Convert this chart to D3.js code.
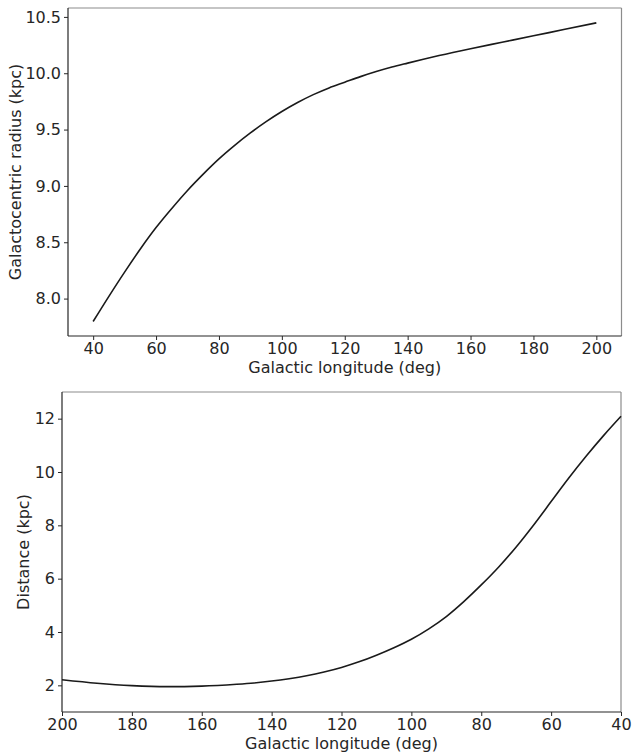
<!DOCTYPE html>
<html>
<head>
<meta charset="utf-8">
<script src="https://cdn.jsdelivr.net/npm/d3@7"></script>
<style>
body{margin:0;background:#fff;}
text{font-family:"DejaVu Sans",sans-serif;fill:#262626;}
</style>
</head>
<body>
<svg id="chart" width="633" height="754"></svg>
<script>
const longitudes = [40,45,50,55,60,65,70,75,80,85,90,95,100,105,110,115,120,125,130,135,140,145,150,160,170,180,190,200];
const radiusKpc = [7.797,8.02,8.235,8.44,8.63,8.80,8.96,9.105,9.24,9.36,9.47,9.57,9.66,9.74,9.81,9.87,9.92,9.97,10.015,10.055,10.09,10.124,10.157,10.218,10.275,10.332,10.39,10.447];
const distanceKpc = [12.09,11.365,10.59,9.765,8.89,8.015,7.19,6.44,5.765,5.14,4.58,4.12,3.73,3.41,3.13,2.88,2.67,2.50,2.36,2.25,2.16,2.09,2.04,1.97,1.95,1.99,2.08,2.21];
const topXTicks = [40,60,80,100,120,140,160,180,200];
const topYTicks = [8.0,8.5,9.0,9.5,10.0,10.5];
const botXTicks = [200,180,160,140,120,100,80,60,40];
const botYTicks = [2,4,6,8,10,12];

const svg = d3.select("#chart");
const FS = 16;

function panel(o){
  const g = svg.append("g");
  const x = d3.scaleLinear().domain(o.xd).range([o.l, o.r]);
  const y = d3.scaleLinear().domain(o.yd).range([o.b, o.t]);
  const xa = g.append("g").attr("transform",`translate(0,${o.b})`)
    .call(d3.axisBottom(x).tickValues(o.xt).tickSize(4).tickPadding(3).tickFormat(o.xf));
  const ya = g.append("g").attr("transform",`translate(${o.l},0)`)
    .call(d3.axisLeft(y).tickValues(o.yt).tickSize(4).tickPadding(3).tickFormat(o.yf));
  [xa,ya].forEach(a=>{
    a.select(".domain").remove();
    a.selectAll(".tick line").attr("stroke","#262626").attr("stroke-width",1);
    a.selectAll(".tick text").attr("font-size",FS).attr("font-family","DejaVu Sans").attr("fill","#262626");
  });
  g.append("line").attr("x1",o.l).attr("x2",o.r).attr("y1",o.t).attr("y2",o.t).attr("stroke","#8c8c8c").attr("stroke-width",1.2);
  g.append("line").attr("x1",o.r).attr("x2",o.r).attr("y1",o.t).attr("y2",o.b).attr("stroke","#8c8c8c").attr("stroke-width",1.2);
  g.append("line").attr("x1",o.l).attr("x2",o.r).attr("y1",o.b).attr("y2",o.b).attr("stroke","#262626").attr("stroke-width",1.2);
  g.append("line").attr("x1",o.l).attr("x2",o.l).attr("y1",o.t).attr("y2",o.b).attr("stroke","#262626").attr("stroke-width",1.2);
  const line = d3.line().x(d=>x(d[0])).y(d=>y(d[1])).curve(d3.curveMonotoneX);
  g.append("path").datum(d3.zip(longitudes,o.vals)).attr("d",line)
    .attr("fill","none").attr("stroke","#1a1a1a").attr("stroke-width",1.6);
  g.append("text").attr("x",(o.l+o.r)/2).attr("y",o.xly).attr("text-anchor","middle")
    .attr("font-size",FS).text(o.xl);
  g.append("text").attr("transform",`translate(${o.ylx},${(o.t+o.b)/2}) rotate(-90)`)
    .attr("text-anchor","middle").attr("font-size",FS).text(o.yl);
}

panel({l:68,r:621.5,t:8,b:336,xd:[32,208],yd:[7.668,10.579],xt:topXTicks,yt:topYTicks,
  xf:d3.format("d"),yf:d3.format(".1f"),vals:radiusKpc,
  xl:"Galactic longitude (deg)",yl:"Galactocentric radius (kpc)",xly:373,ylx:21});
panel({l:62,r:621,t:392,b:712,xd:[200,40],yd:[1,13],xt:botXTicks,yt:botYTicks,
  xf:d3.format("d"),yf:d3.format("d"),vals:distanceKpc,
  xl:"Galactic longitude (deg)",yl:"Distance (kpc)",xly:749,ylx:29});
</script>
</body>
</html>
